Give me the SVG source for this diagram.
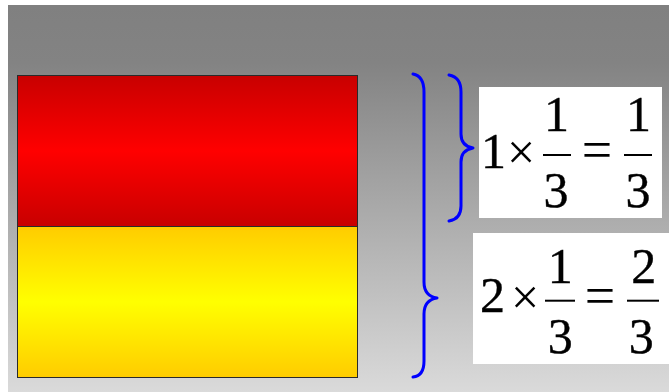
<svg xmlns="http://www.w3.org/2000/svg" width="669" height="392" viewBox="0 0 669 392">
  <defs>
    <linearGradient id="bg" x1="0" y1="0" x2="0" y2="1">
      <stop offset="0" stop-color="#808080"/>
      <stop offset="0.15" stop-color="#838383"/>
      <stop offset="1" stop-color="#dadada"/>
    </linearGradient>
    <linearGradient id="red" x1="0" y1="0" x2="0" y2="1">
      <stop offset="0" stop-color="#c80000"/>
      <stop offset="0.5" stop-color="#ff0000"/>
      <stop offset="1" stop-color="#c80000"/>
    </linearGradient>
    <linearGradient id="yellow" x1="0" y1="0" x2="0" y2="1">
      <stop offset="0" stop-color="#ffcc00"/>
      <stop offset="0.5" stop-color="#ffff00"/>
      <stop offset="1" stop-color="#ffcc00"/>
    </linearGradient>
  </defs>
  <style>
    .brace { fill: none; stroke: #0000ff; stroke-width: 3; stroke-linecap: round; stroke-linejoin: round; }
    .box { fill: #ffffff; }
    .eq { font-family: "Liberation Serif", "Times New Roman", serif; }
    .m { font-size: 50px; fill: #000000; text-anchor: middle; stroke: #000000; stroke-width: 0.4; }
    .x { font-size: 50px; stroke-width: 0; }
    .q { font-size: 54px; stroke-width: 0; }
    .bar { stroke: #000000; stroke-width: 2; }
    .part { stroke: #2a2a2a; stroke-width: 1; }
  </style>

  <!-- page -->
  <rect x="0" y="0" width="669" height="392" fill="#ffffff"/>
  <rect x="8" y="5" width="661" height="387" fill="url(#bg)"/>

  <!-- square split into thirds -->
  <g id="whole">
    <rect id="top-part" class="part" x="17.5" y="75.5" width="340" height="151" fill="url(#red)"/>
    <rect id="bottom-part" class="part" x="17.5" y="226.5" width="340" height="151" fill="url(#yellow)"/>
  </g>

  <!-- braces -->
  <g id="connectors">
    <path class="brace" d="M413,74 Q424,76 424,92 L424,282 Q424,296 437,298 Q424,300 424,314 L424,361 Q424,376 413,377"/>
    <path class="brace" d="M449,75 Q461,77 461,92 L461,134 Q461,146 473,148 Q461,150 461,162 L461,206 Q461,219 449,221"/>
  </g>

  <!-- 1 x 1/3 = 1/3 -->
  <g id="eq1" class="eq">
    <rect class="box" x="479" y="87" width="183" height="131"/>
    <text class="m" x="493.5" y="167.5">1</text>
    <text class="m x" x="521" y="169">×</text>
    <text class="m" x="556.5" y="131">1</text>
    <line class="bar" x1="543" y1="155" x2="571" y2="155"/>
    <text class="m" x="556" y="206.5">3</text>
    <text class="m q" x="597" y="168">=</text>
    <text class="m" x="638.5" y="131">1</text>
    <line class="bar" x1="624" y1="155" x2="652" y2="155"/>
    <text class="m" x="638" y="206.5">3</text>
  </g>

  <!-- 2 x 1/3 = 2/3 -->
  <g id="eq2" class="eq">
    <rect class="box" x="473" y="233" width="196" height="131"/>
    <text class="m" x="492.5" y="311.5">2</text>
    <text class="m x" x="525" y="313.5">×</text>
    <text class="m" x="560.3" y="282.5">1</text>
    <line class="bar" x1="545" y1="300.7" x2="575" y2="300.7"/>
    <text class="m" x="560.3" y="352.5">3</text>
    <text class="m q" x="600" y="313.5">=</text>
    <text class="m" x="643.7" y="282.5">2</text>
    <line class="bar" x1="627" y1="300.7" x2="659" y2="300.7"/>
    <text class="m" x="641.2" y="352.5">3</text>
  </g>
</svg>
